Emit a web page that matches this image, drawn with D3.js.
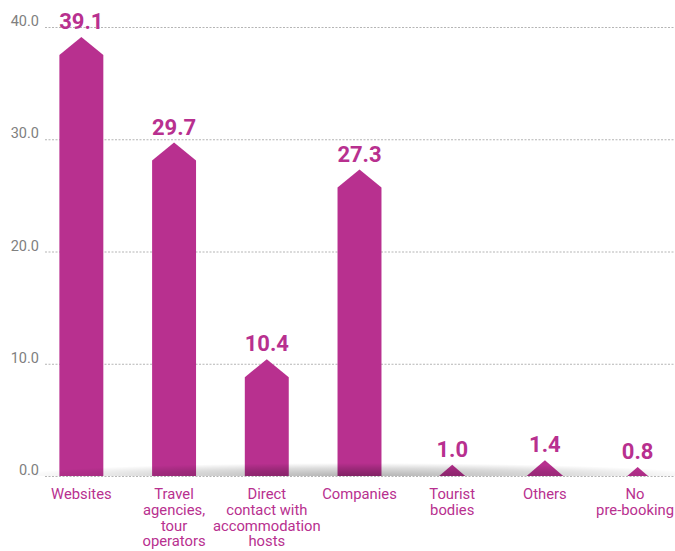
<!DOCTYPE html>
<html>
<head>
<meta charset="utf-8">
<script src="https://cdn.jsdelivr.net/npm/d3@7"></script>
<style>
  body { margin: 0; background: #fff; }
  svg { display: block; }
</style>
</head>
<body>
<div id="chart"></div>
<script>
var width = 675;
var height = 551;

var categories = [
  ["Websites"],
  ["Travel", "agencies,", "tour", "operators"],
  ["Direct", "contact with", "accommodation", "hosts"],
  ["Companies"],
  ["Tourist", "bodies"],
  ["Others"],
  ["No", "pre-booking"]
];
var values = [39.1, 29.7, 10.4, 27.3, 1.0, 1.4, 0.8];
var ticks = [0, 10, 20, 30, 40];

var magenta = "#b8308f";

var svg = d3.select("#chart").append("svg")
  .attr("width", width)
  .attr("height", height);

var x = d3.scaleBand()
  .domain(d3.range(values.length))
  .range([35, 684])
  .paddingInner(0.526)
  .paddingOuter(0.263);

var y = d3.scaleLinear()
  .domain([0, 40])
  .range([476, 27]);

// grid lines
svg.append("g")
  .selectAll("line")
  .data(ticks)
  .enter()
  .append("line")
  .attr("x1", 45)
  .attr("x2", width)
  .attr("y1", (d) => y(d) + 0.5)
  .attr("y2", (d) => y(d) + 0.5)
  .style("stroke", "#b5b5b5")
  .style("stroke-width", 1)
  .style("stroke-dasharray", "2,1.5");

svg.append("g")
  .selectAll("text")
  .data(ticks)
  .enter()
  .append("text")
  .attr("x", 39)
  .attr("y", (d) => y(d) - 1)
  .attr("text-anchor", "end")
  .style("font-family", "Roboto, sans-serif")
  .style("font-size", "14.5px")
  .style("fill", "#808080")
  .text((d) => d.toFixed(1));

// arrow shaped bars
function arrowPath(d, i) {
  const cx = x(i) + x.bandwidth() / 2;
  const half = x.bandwidth() / 2;
  const top = y(d);
  const base = y(0);
  const h = base - top;
  const tip = Math.min(18, h);
  const hw = Math.min(half, tip / 0.86);
  if (h <= 18) {
    return `M${cx - hw},${base} L${cx},${top} L${cx + hw},${base} Z`;
  }
  return `M${cx - half},${base} L${cx - half},${top + tip} L${cx},${top} L${cx + half},${top + tip} L${cx + half},${base} Z`;
}

svg.append("g")
  .selectAll("path")
  .data(values)
  .enter()
  .append("path")
  .attr("d", arrowPath)
  .style("fill", magenta);

// soft shadow along the baseline
var defs = svg.append("defs");
var grad = defs.append("radialGradient")
  .attr("id", "shadow")
  .attr("cx", "50%")
  .attr("cy", "100%")
  .attr("r", "50%");
grad.append("stop").attr("offset", "0%").attr("stop-color", "#000").attr("stop-opacity", 0.3);
grad.append("stop").attr("offset", "60%").attr("stop-color", "#000").attr("stop-opacity", 0.14);
grad.append("stop").attr("offset", "100%").attr("stop-color", "#000").attr("stop-opacity", 0);

svg.append("rect")
  .attr("x", 15)
  .attr("y", y(0) - 26)
  .attr("width", 690)
  .attr("height", 26)
  .attr("fill", "url(#shadow)");

// value labels
svg.append("g")
  .selectAll("text")
  .data(values)
  .enter()
  .append("text")
  .attr("x", (d, i) => x(i) + x.bandwidth() / 2)
  .attr("y", (d) => y(d) - 8)
  .attr("text-anchor", "middle")
  .style("font-family", "Roboto, sans-serif")
  .style("font-weight", "bold")
  .style("font-size", "22px")
  .style("fill", magenta)
  .text((d) => d.toFixed(1));

// category labels
var cat = svg.append("g")
  .selectAll("text")
  .data(categories)
  .enter()
  .append("text")
  .attr("x", (d, i) => x(i) + x.bandwidth() / 2)
  .attr("y", 499)
  .attr("text-anchor", "middle")
  .style("font-family", "Roboto, sans-serif")
  .style("font-size", "14.8px")
  .style("fill", magenta);

cat.selectAll("tspan")
  .data((d) => d)
  .enter()
  .append("tspan")
  .attr("x", function () { return this.parentNode.getAttribute("x"); })
  .attr("dy", (d, i) => (i === 0 ? 0 : 15.8))
  .text((d) => d);

// keep the last label inside the picture
cat.each(function () {
  const box = this.getBBox();
  const over = box.x + box.width - (width - 1);
  if (over > 0) {
    const nx = +this.getAttribute("x") - over;
    d3.select(this).attr("x", nx).selectAll("tspan").attr("x", nx);
  }
});
</script>
</body>
</html>
